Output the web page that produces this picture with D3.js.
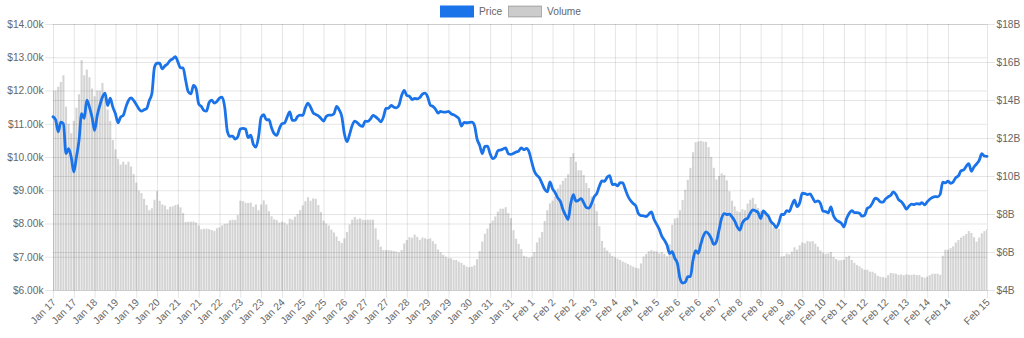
<!DOCTYPE html>
<html>
<head>
<meta charset="utf-8">
<script src="https://cdn.jsdelivr.net/npm/d3@7/dist/d3.min.js"></script>
<style>
  html, body { margin: 0; padding: 0; background: #fff; }
  svg { display: block; }
  text { font-family: "Liberation Sans", Arial, Helvetica, sans-serif; }
</style>
</head>
<body>
<svg id="chart" width="1024" height="338"></svg>
<script>
// Price (thousand USD) and volume (billion USD), one value every two hours, Jan 17 – Feb 15
const priceK = [
  11.21, 11.12, 10.76, 11.05, 11.0, 10.1, 10.25, 10.0, 9.55, 10.0,
  10.5, 11.3, 11.16, 11.71, 11.5, 11.2, 10.8, 11.25, 11.55, 11.8,
  11.92, 11.55, 11.77, 11.5, 11.3, 11.03, 11.2, 11.25, 11.5, 11.7,
  11.78, 11.7, 11.58, 11.45, 11.38, 11.42, 11.46, 11.7, 11.9, 12.7,
  12.82, 12.82, 12.65, 12.74, 12.8, 12.9, 12.95, 13.02, 12.86, 12.68,
  12.68, 12.3, 11.96, 11.9, 12.15, 12.05, 11.6, 11.52, 11.4, 11.38,
  11.64, 11.71, 11.62, 11.67, 11.77, 11.8, 11.5, 10.78, 10.62, 10.63,
  10.54, 10.6, 10.84, 10.86, 10.84, 10.58, 10.66, 10.38, 10.3, 10.6,
  11.2, 11.27, 11.12, 11.12, 10.88, 10.7, 10.65, 10.85, 11.0, 11.02,
  11.2, 11.36, 11.1, 11.1, 11.22, 11.26, 11.25, 11.48, 11.62, 11.5,
  11.33, 11.28, 11.24, 11.16, 11.08, 11.22, 11.26, 11.26, 11.3, 11.52,
  11.42, 11.22, 10.7, 10.46, 10.68, 10.95, 11.08, 11.03, 10.95, 10.92,
  11.08, 11.07, 11.14, 11.25, 11.21, 11.14, 11.06, 11.2, 11.46, 11.47,
  11.55, 11.5, 11.48, 11.56, 11.85, 12.0, 11.85, 11.83, 11.73, 11.76,
  11.75, 11.79, 11.89, 11.92, 11.81, 11.56, 11.52, 11.44, 11.32, 11.37,
  11.35, 11.35, 11.37, 11.3, 11.27, 11.22, 11.16, 10.93, 11.04, 11.03,
  11.04, 11.05, 10.95, 10.54, 10.35, 10.1, 10.32, 10.33, 10.1, 9.95,
  10.0, 10.19, 10.21, 10.24, 10.27, 10.1, 10.08, 10.11, 10.15, 10.18,
  10.27, 10.22, 10.26, 10.15, 9.85, 9.58, 9.45, 9.37, 9.2, 9.03,
  8.95, 9.25, 9.05, 8.93, 8.77, 8.67, 8.42, 8.25, 8.12, 8.6,
  8.87, 8.67, 8.7, 8.75, 8.62, 8.48, 8.46, 8.6, 8.8, 8.9,
  9.12, 9.28, 9.27, 9.39, 9.44, 9.17, 9.18, 9.13, 9.23, 9.22,
  9.02, 8.82, 8.69, 8.6, 8.53, 8.3, 8.24, 8.23, 8.21, 8.28,
  8.35, 8.13, 7.98, 7.83, 7.62, 7.5, 7.35, 7.1, 7.15, 6.95,
  6.8, 6.35, 6.21, 6.23, 6.4, 6.4, 6.9, 7.18, 7.1, 7.38,
  7.63, 7.75, 7.69, 7.55, 7.37, 7.46, 7.8, 8.16, 8.3, 8.27,
  8.28, 8.2, 8.08, 7.9, 7.8, 8.02, 8.12, 8.16, 8.31, 8.41,
  8.38, 8.33, 8.15, 8.38, 8.3, 8.22, 8.05, 7.98, 7.88, 8.02,
  8.27, 8.27, 8.39, 8.36, 8.55, 8.7, 8.51, 8.62, 8.91, 8.9,
  8.87, 8.89, 8.77, 8.65, 8.68, 8.6, 8.37, 8.36, 8.32, 8.5,
  8.23, 8.11, 8.06, 8.01, 7.9, 8.14, 8.3, 8.39, 8.33, 8.33,
  8.31, 8.22, 8.25, 8.46, 8.5, 8.62, 8.76, 8.73, 8.65, 8.64,
  8.74, 8.8, 8.85, 8.95, 8.87, 8.72, 8.66, 8.56, 8.43, 8.52,
  8.58, 8.57, 8.6, 8.58, 8.63, 8.56, 8.65, 8.73, 8.78, 8.81,
  8.8, 8.88, 9.24, 9.22, 9.27, 9.21, 9.25, 9.38, 9.43, 9.58,
  9.61, 9.72, 9.8, 9.57, 9.7, 9.79, 9.9, 10.1, 10.03, 10.02
];

const volumeB = [
  14.5, 14.5, 14.7, 14.95, 15.3, 13.65, 12.75, 12.25, 12.9, 13.6,
  14.3, 16.1, 15.3, 15.6, 15.2, 14.6, 14.2, 14.5, 14.5, 14.9,
  14.17, 13.5, 12.9, 11.9, 11.4, 10.9, 10.6, 10.75, 10.6, 10.75,
  10.5, 10.1, 9.65, 9.23, 9.1, 8.8, 8.47, 8.2, 8.3, 8.75,
  9.2, 8.7, 8.5, 8.45, 8.25, 8.38, 8.4, 8.47, 8.5, 8.35,
  8.05, 7.58, 7.6, 7.6, 7.6, 7.55, 7.4, 7.2, 7.22, 7.23,
  7.2, 7.16, 7.1, 7.25, 7.3, 7.4, 7.48, 7.5, 7.67, 7.7,
  7.68, 7.95, 8.7, 8.68, 8.6, 8.58, 8.6, 8.38, 8.5, 8.2,
  8.5, 8.72, 8.5, 8.15, 7.88, 7.72, 7.68, 7.55, 7.6, 7.55,
  7.45, 7.75, 7.7, 7.86, 8.0, 8.2, 8.45, 8.67, 8.88, 8.7,
  8.82, 8.8, 8.47, 8.1, 7.65, 7.5, 7.4, 7.18, 7.03, 6.82,
  6.58, 6.47, 6.72, 7.05, 7.45, 7.7, 7.85, 7.72, 7.77, 7.7,
  7.68, 7.7, 7.7, 7.7, 7.25, 6.65, 6.28, 6.1, 6.1, 6.1,
  6.08, 6.05, 6.02, 5.98, 6.1, 6.45, 6.63, 6.78, 6.75, 6.92,
  6.8, 6.64, 6.76, 6.72, 6.68, 6.72, 6.57, 6.43, 6.13, 5.99,
  5.85, 5.75, 5.67, 5.67, 5.58, 5.58, 5.49, 5.42, 5.32, 5.23,
  5.2, 5.23, 5.3, 5.62, 6.05, 6.55, 6.96, 7.23, 7.5, 7.65,
  7.87, 8.13, 8.28, 8.28, 8.36, 8.05, 7.78, 7.15, 6.7, 6.43,
  6.15, 5.8, 5.75, 5.7, 5.75, 6.0, 6.5, 6.76, 7.05, 7.63,
  8.2, 8.56, 8.7, 8.92, 9.35, 9.55, 9.75, 9.9, 10.1, 11.0,
  11.2, 10.75, 10.3, 10.3, 10.05, 9.63, 9.37, 8.92, 8.55, 8.15,
  7.36, 6.58, 6.23, 6.08, 5.94, 5.8, 5.72, 5.65, 5.58, 5.5,
  5.44, 5.37, 5.3, 5.23, 5.17, 5.14, 5.4, 5.76, 5.9, 6.04,
  6.1, 6.04, 6.03, 5.93, 6.0, 5.9, 5.77, 6.4, 7.43, 7.76,
  7.8, 8.2, 8.74, 9.28, 9.8, 10.43, 11.25, 11.78, 11.82, 11.85,
  11.81, 11.8, 11.52, 11.0, 10.43, 9.82, 9.99, 10.14, 10.05, 9.77,
  9.2, 8.7, 8.4, 8.15, 8.1, 8.25, 8.2, 8.55, 8.75, 8.85,
  8.53, 8.32, 8.15, 8.12, 8.0, 7.85, 7.55, 7.3, 7.32, 7.22,
  5.76, 5.78, 5.92, 5.88, 6.02, 6.25, 6.12, 6.35, 6.5, 6.46,
  6.58, 6.55, 6.58, 6.44, 6.28, 6.08, 5.95, 5.9, 5.93, 6.0,
  5.74, 5.63, 5.56, 5.57, 5.6, 5.74, 5.8, 5.58, 5.43, 5.32,
  5.25, 5.14, 5.06, 5.07, 4.97, 4.96, 4.88, 4.75, 4.7, 4.68,
  4.64, 4.78, 4.9, 4.88, 4.86, 4.8, 4.82, 4.78, 4.82, 4.8,
  4.8, 4.82, 4.79, 4.78, 4.69, 4.65, 4.7, 4.78, 4.86, 4.85,
  4.86, 4.8, 5.8, 6.12, 6.12, 6.2, 6.3, 6.5, 6.63, 6.76,
  6.85, 6.95, 7.1, 7.0, 6.78, 6.55, 6.76, 6.98, 7.1, 7.2
];

// Category axis labels: one every 8 points (16 h), plus the final point
const xTickLabels = [
  "Jan 17", "Jan 17", "Jan 18", "Jan 19", "Jan 19", "Jan 20", "Jan 21", "Jan 21",
  "Jan 22", "Jan 23", "Jan 23", "Jan 24", "Jan 25", "Jan 25", "Jan 26", "Jan 27",
  "Jan 27", "Jan 28", "Jan 29", "Jan 29", "Jan 30", "Jan 31", "Jan 31", "Feb 1",
  "Feb 2", "Feb 2", "Feb 3", "Feb 4", "Feb 4", "Feb 5", "Feb 6", "Feb 6",
  "Feb 7", "Feb 8", "Feb 8", "Feb 9", "Feb 10", "Feb 10", "Feb 11", "Feb 12",
  "Feb 12", "Feb 13", "Feb 14", "Feb 14", "Feb 15"
];
const labelEvery = 8;

const priceTicks = [6, 7, 8, 9, 10, 11, 12, 13, 14];
const volumeTicks = [4, 6, 8, 10, 12, 14, 16, 18];

const series = [
  { name: "Price", color: "#1a73e8" },
  { name: "Volume", color: "rgba(0,0,0,0.17)", legendFill: "rgba(0,0,0,0.2)", border: "rgba(0,0,0,0.25)" }
];

// ---- layout ----
const svg = d3.select("#chart");
const plot = { left: 53, right: 987, top: 24, bottom: 290 };
const tickLen = 8;
const gridColor = "rgba(0,0,0,0.1)";
const textColor = "#666";
const fontSize = "10.2px";

const n = priceK.length;
const idx = d3.range(n);
const x = d3.scalePoint().domain(idx).range([plot.left, plot.right]);
const yPrice = d3.scaleLinear().domain([6, 14]).range([plot.bottom, plot.top]);
const yVol = d3.scaleLinear().domain([4, 18]).range([plot.bottom, plot.top]);

const tickIdx = xTickLabels.map((_, k) => k < xTickLabels.length - 1 ? k * labelEvery : n - 1);

function styleAxis(g) {
  g.select(".domain").remove();
  g.selectAll(".tick line").attr("stroke", gridColor);
  g.selectAll(".tick text").attr("fill", textColor).style("font-size", fontSize);
}

// left axis + horizontal grid
svg.append("g")
  .attr("transform", `translate(${plot.left - tickLen},0)`)
  .call(d3.axisLeft(yPrice).tickValues(priceTicks)
    .tickFormat(d => "$" + d.toFixed(2) + "k")
    .tickSizeInner(-(plot.right - plot.left + tickLen)).tickSizeOuter(0).tickPadding(1.5))
  .call(styleAxis);

// right axis + horizontal grid
svg.append("g")
  .attr("transform", `translate(${plot.right + tickLen},0)`)
  .call(d3.axisRight(yVol).tickValues(volumeTicks)
    .tickFormat(d => "$" + d + "B")
    .tickSizeInner(-(plot.right - plot.left + tickLen)).tickSizeOuter(0).tickPadding(1.5))
  .call(styleAxis);

// bottom axis + vertical grid
const xAxis = svg.append("g")
  .attr("transform", `translate(0,${plot.bottom + tickLen})`)
  .call(d3.axisBottom(x).tickValues(tickIdx)
    .tickFormat((d, k) => xTickLabels[k])
    .tickSizeInner(-(plot.bottom - plot.top + tickLen)).tickSizeOuter(0))
  .call(styleAxis);
xAxis.selectAll(".tick text")
  .attr("text-anchor", "end")
  .attr("dy", null)
  .attr("x", 3)
  .attr("y", 5)
  .attr("transform", "rotate(-45, 3, 5)");

// clip for the data marks
svg.append("clipPath").attr("id", "plot-clip")
  .append("rect")
  .attr("x", plot.left).attr("y", plot.top)
  .attr("width", plot.right - plot.left).attr("height", plot.bottom - plot.top);

// volume bars
const step = x.step();
const barW = step * 0.8;
svg.append("g").attr("clip-path", "url(#plot-clip)")
  .selectAll("rect").data(volumeB).join("rect")
  .attr("x", (d, i) => x(i) - barW / 2)
  .attr("y", d => yVol(d))
  .attr("width", barW)
  .attr("height", d => yVol(4) - yVol(d))
  .attr("fill", series[1].color);

// price line
svg.append("path")
  .datum(priceK)
  .attr("fill", "none")
  .attr("stroke", series[0].color)
  .attr("stroke-width", 2.8)
  .attr("stroke-linejoin", "round")
  .attr("stroke-linecap", "round")
  .attr("d", d3.line().x((d, i) => x(i)).y(d => yPrice(d)).curve(d3.curveMonotoneX));

// legend
const legend = svg.append("g").attr("transform", "translate(440,5.5)");
const items = [
  { s: series[0], x: 0 },
  { s: series[1], x: 68 }
];
items.forEach(({ s, x: lx }) => {
  legend.append("rect")
    .attr("x", lx + 0.5).attr("y", 0.5)
    .attr("width", 33).attr("height", 11)
    .attr("fill", s.legendFill || s.color)
    .attr("stroke", s.border || s.color)
    .attr("stroke-width", 1);
  legend.append("text")
    .attr("x", lx + 39).attr("y", 9.5)
    .attr("fill", textColor)
    .style("font-size", fontSize)
    .text(s.name);
});
</script>
</body>
</html>
